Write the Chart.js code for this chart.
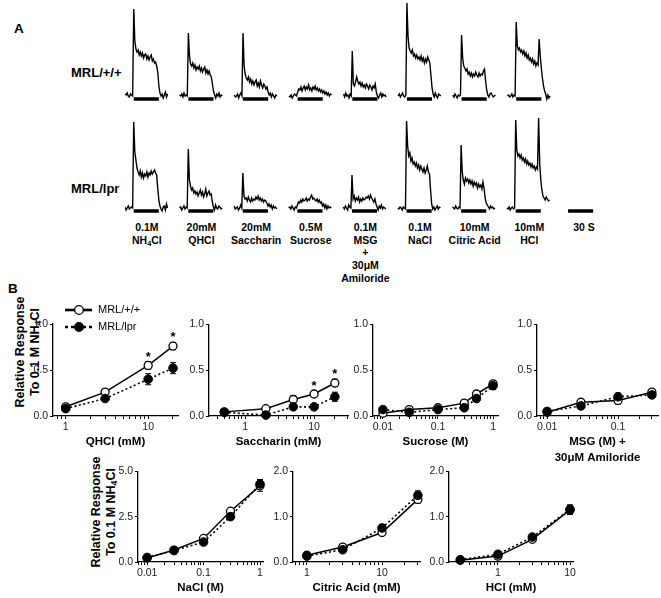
<!DOCTYPE html>
<html>
<head>
<meta charset="utf-8">
<script src="https://cdn.jsdelivr.net/npm/chart.js@4.4.1/dist/chart.umd.min.js"></script>
<style>
  body { margin: 0; background: #fff; }
  #page { position: relative; width: 661px; height: 598px; overflow: hidden; background: #fff;
          font-family: "Liberation Sans", Arial, sans-serif; color: #000; }
  #page canvas { position: absolute; }
  .txt { position: absolute; font-weight: bold; white-space: nowrap; line-height: 14px; }
  .stim { position: absolute; width: 80px; text-align: center; font-size: 10.5px; font-weight: bold; line-height: 12.7px; white-space: nowrap; }
  .ytitle { position: absolute; width: 150px; height: 30px; transform: rotate(-90deg); text-align: center;
            font-size: 12.5px; font-weight: bold; line-height: 15px; white-space: nowrap; }
  sub { font-size: 0.7em; vertical-align: -0.25em; line-height: 0; }
</style>
</head>
<body>
<div id="page">
  <div class="txt" style="left:14px;top:22px;font-size:13.5px">A</div>
  <div class="txt" style="left:8px;top:282px;font-size:13.5px">B</div>
  <div class="txt" style="left:71px;top:66px;font-size:13px">MRL/+/+</div>
  <div class="txt" style="left:71px;top:182px;font-size:13px">MRL/lpr</div>
  <div class="ytitle" style="left:-47px;top:337px">Relative Response<br>To 0.1 M NH<sub>4</sub>Cl</div>
  <div class="ytitle" style="left:29px;top:497px">Relative Response<br>To 0.1 M NH<sub>4</sub>Cl</div>
</div>
<script>
// ---------- panel A: whole-nerve recordings (height above baseline, arbitrary units) ----------
const SLOT = 50;          // samples per stimulus slot (trace + gap)
const stimOn = 8;         // sample index where the stimulus bar starts
const stimOff = 31;       // sample index where the stimulus bar ends
const scaleBarOn = 6;
const scaleBarOff = 29;

const stimLabels = [
  ["0.1M", "NH<sub>4</sub>Cl"],
  ["20mM", "QHCl"],
  ["20mM", "Saccharin"],
  ["0.5M", "Sucrose"],
  ["0.1M", "MSG", "+", "30\u03bcM", "Amiloride"],
  ["0.1M", "NaCl"],
  ["10mM", "Citric Acid"],
  ["10mM", "HCl"],
  ["30 S"],
];

const wtNH4Cl = [2,1,3,0,-1,2,1,0, 87,55,47,44,46,41,44,40,43,38,41,42,37,40,36,39,41,35,37,33,34,30, 24,10,3,0,2,-2,1,4,-1,2];
const wtQHCl = [1,0,2,-1,3,0,1,0, 63,40,32,30,33,28,31,26,29,27,30,25,28,24,27,29,23,26,22,25,21,19, 12,5,1,-2,2,0,3,-1,1,0];
const wtSaccharin = [1,-1,0,2,-2,1,3,0, 63,30,22,18,16,19,14,17,12,15,11,14,16,10,13,9,15,11,8,12,10,7, 9,4,1,3,-1,2,0,-2,1,0];
const wtSucrose = [0,-1,1,-2,0,2,1,0, 4,7,6,9,5,8,10,6,9,7,11,6,8,5,9,7,10,6,8,5,7,4, 6,3,5,2,4,1,3,0,2,1];
const wtMSG = [2,-1,3,0,1,-2,2,0, 45,12,10,14,19,15,12,14,10,13,9,11,8,12,10,7,11,9,6,10,8,12, 4,0,-2,1,3,-1,2,0,1,-1];
const wtNaCl = [0,2,-1,1,3,0,-1,1, 93,60,48,45,43,46,40,42,38,41,37,39,36,40,35,38,33,37,34,39,36,33, 20,8,2,-1,3,0,-2,2,1,0];
const wtCitric = [1,-1,2,0,-2,1,0,1, 61,38,30,28,25,27,22,24,20,23,19,22,20,24,21,19,23,20,22,21,25,27, 15,6,1,-1,2,3,1,-1,0,1];
const wtHCl = [0,1,-1,0,2,-1,1,0, 74,50,46,48,44,46,42,45,40,43,38,41,36,38,34,37,32,35,30,33,31,57, 40,28,18,10,5,2,-3,1,-2,0];

const lprNH4Cl = [1,-2,0,2,-1,0,1,0, 86,56,48,40,36,33,37,31,35,30,34,32,36,31,35,33,37,34,36,38,35,33, 20,8,2,-1,-3,1,2,-2,4,0];
const lprQHCl = [0,1,-2,0,2,-1,1,0, 59,28,22,18,20,15,17,14,16,12,15,18,13,16,11,14,19,12,15,17,13,14, 6,1,-2,3,0,-1,2,1,-1,0];
const lprSaccharin = [2,-1,0,1,-2,0,3,0, 35,12,9,10,7,11,8,6,10,7,9,8,11,9,12,8,10,7,9,6,8,7, 5,2,4,1,3,-1,2,0,1,-1];
const lprSucrose = [0,1,-1,2,0,-2,1,0, 3,6,5,8,6,9,7,8,10,7,9,8,11,13,9,10,8,7,9,6,8,5, 6,2,4,0,3,-1,2,0,1,0];
const lprMSG = [1,-1,2,0,-2,3,1,0, 33,9,12,7,10,8,11,6,9,7,10,8,9,11,10,12,9,13,10,8,6,9, 4,1,-2,2,0,3,-1,1,0,-1];
const lprNaCl = [0,-1,1,0,-2,1,0,-1, 87,62,52,55,47,50,44,46,42,45,40,43,38,42,39,36,40,35,38,42,36,34, 18,4,-1,1,-2,0,2,-1,1,0];
const lprCitric = [1,0,-1,2,0,-1,1,0, 63,36,28,24,30,27,29,25,28,24,27,22,26,23,25,20,24,21,23,19,26,20, 10,5,3,1,-1,2,0,1,-1,0];
const lprHCl = [0,-1,1,-2,0,1,-1,0, 88,58,52,54,50,53,48,50,46,49,44,47,43,45,41,44,40,42,38,41,39,90, 45,28,18,12,10,8,11,9,7,8];

const wtTraces = [wtNH4Cl, wtQHCl, wtSaccharin, wtSucrose, wtMSG, wtNaCl, wtCitric, wtHCl];
const lprTraces = [lprNH4Cl, lprQHCl, lprSaccharin, lprSucrose, lprMSG, lprNaCl, lprCitric, lprHCl];

// ---------- panel B: concentration-response (relative to 0.1 M NH4Cl) ----------
const qhclConc = [1, 3, 10, 20];
const qhclWT = [0.10, 0.26, 0.55, 0.76];
const qhclWTErr = [0.02, 0.02, 0.04, 0.04];
const qhclLpr = [0.08, 0.19, 0.40, 0.52];
const qhclLprErr = [0.02, 0.02, 0.06, 0.06];
const qhclStars = [2, 3];

const saccharinConc = [0.5, 2, 5, 10, 20];
const saccharinWT = [0.045, 0.08, 0.18, 0.24, 0.36];
const saccharinWTErr = [0.01, 0.01, 0.04, 0.03, 0.04];
const saccharinLpr = [0.04, 0.01, 0.10, 0.10, 0.21];
const saccharinLprErr = [0.01, 0.01, 0.02, 0.02, 0.05];
const saccharinStars = [3, 4];

const sucroseConc = [0.01, 0.03, 0.1, 0.3, 0.5, 1];
const sucroseWT = [0.03, 0.07, 0.09, 0.14, 0.24, 0.35];
const sucroseWTErr = [0.01, 0.02, 0.02, 0.03, 0.03, 0.03];
const sucroseLpr = [0.07, 0.04, 0.07, 0.09, 0.19, 0.33];
const sucroseLprErr = [0.02, 0.02, 0.02, 0.03, 0.03, 0.04];

const msgConc = [0.01, 0.03, 0.1, 0.3];
const msgWT = [0.04, 0.15, 0.17, 0.26];
const msgWTErr = [0.02, 0.02, 0.04, 0.03];
const msgLpr = [0.05, 0.11, 0.21, 0.23];
const msgLprErr = [0.02, 0.02, 0.04, 0.03];

const naclConc = [0.01, 0.03, 0.1, 0.3, 1];
const naclWT = [0.22, 0.66, 1.3, 2.8, 4.2];
const naclWTErr = [0.08, 0.1, 0.1, 0.15, 0.3];
const naclLpr = [0.25, 0.63, 1.1, 2.5, 4.3];
const naclLprErr = [0.1, 0.1, 0.15, 0.15, 0.25];

const citricConc = [1, 3, 10, 30];
const citricWT = [0.15, 0.33, 0.65, 1.38];
const citricWTErr = [0.04, 0.05, 0.06, 0.08];
const citricLpr = [0.13, 0.27, 0.75, 1.47];
const citricLprErr = [0.05, 0.06, 0.08, 0.1];

const hclConc = [0.3, 1, 3, 10];
const hclWT = [0.04, 0.13, 0.50, 1.15];
const hclWTErr = [0.02, 0.04, 0.05, 0.1];
const hclLpr = [0.05, 0.17, 0.55, 1.16];
const hclLprErr = [0.03, 0.05, 0.06, 0.1];

const yTicksUnit = [0, 0.5, 1];
const yTicksNaCl = [0, 2.5, 5];
const yTicksAcid = [0, 1, 2];
const seriesNames = ["MRL/+/+", "MRL/lpr"];

// ---------- shared bits ----------
const FONT = '"Liberation Sans", Arial, sans-serif';
const page = document.getElementById("page");
const SAMPLE_PX = 1.092;
const Y_AXIS_W = 40;
const PAD_R = 10;

function addCanvas(left, top, width, height) {
  const canvas = document.createElement("canvas");
  canvas.width = width;
  canvas.height = height;
  canvas.style.left = left + "px";
  canvas.style.top = top + "px";
  page.appendChild(canvas);
  return canvas;
}

function slotSeries(slots, pick) {
  const out = [];
  slots.forEach((slot, k) => {
    for (let i = 0; i < SLOT; i += 1) out.push(pick(slot, i, k));
  });
  return out;
}

function makeTraceRow(traces, top, withScaleBar) {
  const slots = withScaleBar ? [...traces, null] : traces;
  const trace = slotSeries(slots, (t, i) => (t && i < t.length ? t[i] : null));
  const bars = slotSeries(slots, (t, i) => {
    const on = t ? stimOn : scaleBarOn;
    const off = t ? stimOff : scaleBarOff;
    return i >= on && i <= off ? -3 : null;
  });
  const width = Math.round((trace.length - 1) * SAMPLE_PX);
  const canvas = addCanvas(125, top, width, 104);

  return new Chart(canvas, {
    type: "line",
    data: {
      labels: trace.map((_, i) => i),
      datasets: [
        { data: trace, borderColor: "#000", borderWidth: 1.4, pointRadius: 0, clip: false, tension: 0 },
        { data: bars, borderColor: "#000", borderWidth: 3.5, pointRadius: 0, clip: false, borderCapStyle: "butt" },
      ],
    },
    options: {
      responsive: false,
      animation: false,
      events: [],
      layout: { padding: 0 },
      plugins: { legend: { display: false }, tooltip: { enabled: false } },
      scales: {
        x: { display: false },
        y: { display: false, min: -8, max: 96 },
      },
    },
  });
}

const topRow = makeTraceRow(wtTraces, 0, false);
makeTraceRow(lprTraces, 112, true);

stimLabels.forEach((lines, k) => {
  const cx = 125 + topRow.scales.x.getPixelForValue(k * SLOT + 20);
  const div = document.createElement("div");
  div.className = "stim";
  div.style.left = (cx - 40) + "px";
  div.style.top = "221px";
  div.innerHTML = lines.join("<br>");
  page.appendChild(div);
});

// ---------- plugins for panel B ----------
const errorBars = {
  id: "errorBars",
  beforeDatasetsDraw(chart) {
    const { ctx, scales: { x, y } } = chart;
    ctx.save();
    ctx.strokeStyle = "#000";
    ctx.lineWidth = 1;
    chart.data.datasets.forEach((ds) => {
      ds.data.forEach((p, i) => {
        const e = ds.errors[i];
        const px = x.getPixelForValue(p.x);
        const top = y.getPixelForValue(p.y + e);
        const bot = y.getPixelForValue(p.y - e);
        ctx.beginPath();
        ctx.moveTo(px, top); ctx.lineTo(px, bot);
        ctx.moveTo(px - 3, top); ctx.lineTo(px + 3, top);
        ctx.moveTo(px - 3, bot); ctx.lineTo(px + 3, bot);
        ctx.stroke();
      });
    });
    ctx.restore();
  },
  afterDatasetsDraw(chart) {
    const { ctx, scales: { x, y } } = chart;
    ctx.save();
    ctx.fillStyle = "#000";
    ctx.font = "bold 13px " + FONT;
    ctx.textAlign = "center";
    ctx.textBaseline = "alphabetic";
    chart.data.datasets.forEach((ds) => {
      (ds.stars || []).forEach((i) => {
        const p = ds.data[i];
        ctx.fillText("*", x.getPixelForValue(p.x), y.getPixelForValue(p.y + ds.errors[i]) - 1);
      });
    });
    ctx.restore();
  },
};

const seriesLegend = {
  id: "seriesLegend",
  afterDraw(chart) {
    const { ctx } = chart;
    const rows = [18, 35];
    ctx.save();
    chart.data.datasets.forEach((ds, i) => {
      const y = rows[i];
      ctx.strokeStyle = "#000";
      ctx.lineWidth = 2.6;
      ctx.setLineDash(ds.borderDash ? [3, 3] : []);
      ctx.beginPath();
      ctx.moveTo(52, y); ctx.lineTo(79, y);
      ctx.stroke();
      ctx.setLineDash([]);
      ctx.lineWidth = 1.3;
      ctx.fillStyle = ds.pointBackgroundColor;
      ctx.beginPath();
      ctx.arc(66, y, 4.3, 0, Math.PI * 2);
      ctx.fill();
      ctx.stroke();
      ctx.fillStyle = "#000";
      ctx.font = "11px " + FONT;
      ctx.textBaseline = "middle";
      ctx.fillText(ds.label, 85, y);
    });
    ctx.restore();
  },
};

function logTicks(min, max) {
  const ticks = [];
  for (let e = Math.floor(Math.log10(min)); e <= Math.ceil(Math.log10(max)); e += 1) {
    for (let m = 1; m <= 9; m += 1) {
      const v = Number((m * Math.pow(10, e)).toPrecision(6));
      if (v >= min && v <= max) ticks.push({ value: v });
    }
  }
  return ticks;
}

function isDecade(v) {
  const l = Math.log10(v);
  return Math.abs(l - Math.round(l)) < 1e-9;
}

function points(conc, values) {
  return conc.map((c, i) => ({ x: c, y: values[i] }));
}

function makeDoseChart(spec) {
  const twoLine = Array.isArray(spec.title);
  const padTop = spec.legend ? 32 : 8;
  const xh = twoLine ? 49 : 33;
  const [ax, ay, w, h] = spec.box;
  const canvas = addCanvas(ax - Y_AXIS_W, ay - padTop, Y_AXIS_W + w + PAD_R, padTop + h + xh);
  const tickFont = { family: FONT, size: 10.5 };

  new Chart(canvas, {
    type: "line",
    data: {
      datasets: [
        {
          label: seriesNames[0],
          data: points(spec.conc, spec.wt),
          errors: spec.wtErr,
          stars: spec.stars,
          borderColor: "#000",
          borderWidth: 1.5,
          pointRadius: 4,
          pointBackgroundColor: "#fff",
          pointBorderColor: "#000",
          pointBorderWidth: 1.3,
          order: 1,
          clip: false,
        },
        {
          label: seriesNames[1],
          data: points(spec.conc, spec.lpr),
          errors: spec.lprErr,
          borderColor: "#000",
          borderWidth: 1.6,
          borderDash: [2, 2.5],
          pointRadius: 4.3,
          pointBackgroundColor: "#000",
          pointBorderColor: "#000",
          pointBorderWidth: 1,
          order: 0,
          clip: false,
        },
      ],
    },
    options: {
      responsive: false,
      animation: false,
      events: [],
      layout: { padding: { top: padTop, right: PAD_R, left: 0, bottom: 0 } },
      plugins: { legend: { display: false }, tooltip: { enabled: false } },
      scales: {
        x: {
          type: "logarithmic",
          min: spec.xMin,
          max: spec.xMax,
          afterBuildTicks(scale) {
            scale.ticks = logTicks(spec.xMin, spec.xMax);
          },
          afterFit(scale) {
            scale.height = xh;
          },
          ticks: {
            autoSkip: false,
            maxRotation: 0,
            padding: 2,
            color: "#222",
            font: tickFont,
            callback(value) {
              return isDecade(value) ? String(value) : "";
            },
          },
          grid: { drawOnChartArea: false, tickLength: 3, tickColor: "#000", tickWidth: 1 },
          border: { color: "#000", width: 1.3 },
          title: {
            display: true,
            text: spec.title,
            color: "#000",
            padding: 0,
            font: { family: FONT, size: 11.5, weight: "bold", lineHeight: 1.32 },
          },
        },
        y: {
          min: 0,
          max: spec.yTicks[spec.yTicks.length - 1],
          afterBuildTicks(scale) {
            scale.ticks = spec.yTicks.map((v) => ({ value: v }));
          },
          afterFit(scale) {
            scale.width = Y_AXIS_W;
          },
          ticks: {
            padding: 2,
            color: "#222",
            font: tickFont,
            callback(value) {
              return value.toFixed(1);
            },
          },
          grid: { drawOnChartArea: false, tickLength: 3, tickColor: "#000", tickWidth: 1 },
          border: { color: "#000", width: 1.3 },
        },
      },
    },
    plugins: spec.legend ? [errorBars, seriesLegend] : [errorBars],
  });
}

// box = [y-axis x, top of y range, plot width, plot height] in page pixels
const doseCharts = [
  { title: "QHCl (mM)", conc: qhclConc, wt: qhclWT, wtErr: qhclWTErr, lpr: qhclLpr, lprErr: qhclLprErr,
    stars: qhclStars, xMin: 0.72, xMax: 23, yTicks: yTicksUnit, box: [53, 324, 125, 92], legend: true },
  { title: "Saccharin (mM)", conc: saccharinConc, wt: saccharinWT, wtErr: saccharinWTErr, lpr: saccharinLpr,
    lprErr: saccharinLprErr, stars: saccharinStars, xMin: 0.33, xMax: 31, yTicks: yTicksUnit, box: [209, 324, 139, 92] },
  { title: "Sucrose (M)", conc: sucroseConc, wt: sucroseWT, wtErr: sucroseWTErr, lpr: sucroseLpr,
    lprErr: sucroseLprErr, xMin: 0.0066, xMax: 1.23, yTicks: yTicksUnit, box: [373, 324, 125, 92] },
  { title: ["MSG (M) +", "30\u03bcM Amiloride"], conc: msgConc, wt: msgWT, wtErr: msgWTErr, lpr: msgLpr,
    lprErr: msgLprErr, xMin: 0.0072, xMax: 0.366, yTicks: yTicksUnit, box: [537, 324, 121, 92] },
  { title: "NaCl (M)", conc: naclConc, wt: naclWT, wtErr: naclWTErr, lpr: naclLpr, lprErr: naclLprErr,
    xMin: 0.0069, xMax: 1.13, yTicks: yTicksNaCl, box: [138, 471, 125, 91] },
  { title: "Citric Acid (mM)", conc: citricConc, wt: citricWT, wtErr: citricWTErr, lpr: citricLpr,
    lprErr: citricLprErr, xMin: 0.654, xMax: 32, yTicks: yTicksAcid, box: [293, 471, 127, 91] },
  { title: "HCl (mM)", conc: hclConc, wt: hclWT, wtErr: hclWTErr, lpr: hclLpr, lprErr: hclLprErr,
    xMin: 0.209, xMax: 11, yTicks: yTicksAcid, box: [449, 471, 124, 91] },
];

doseCharts.forEach(makeDoseChart);
</script>
</body>
</html>
